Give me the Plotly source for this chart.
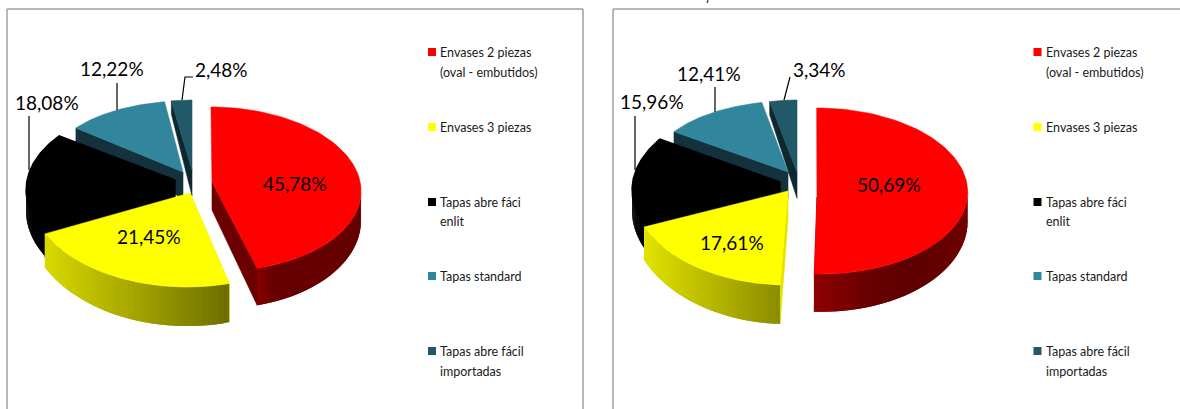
import numpy as np
import plotly.graph_objects as go

# ---------- data ----------
categories = [
    "Envases 2 piezas<br>(oval - embutidos)",
    "Envases 3 piezas",
    "Tapas abre fáci<br>enlit",
    "Tapas standard",
    "Tapas abre fácil<br>importadas",
]
values_left = [45.78, 21.45, 18.08, 12.22, 2.48]
values_right = [50.69, 17.61, 15.96, 12.41, 3.34]
labels_left = ["45,78%", "21,45%", "18,08%", "12,22%", "2,48%"]
labels_right = ["50,69%", "17,61%", "15,96%", "12,41%", "3,34%"]
colors = ["#FF0000", "#FFFF00", "#000000", "#31859C", "#215968"]

# ---------- styling / layout constants ----------
FONT = "Lato"
WALL = ["#6a0000", "#e4e400", "#000000", "#13323d", "#0e2830"]
WALL_EDGE = [1, 0, 0, 0, 0]          # which radial edge has a visible wall
DEPTH_SCALE = [1, 1, 0.72, 1, 1]
DRAW_ORDER = [4, 3, 2, 1, 0]

LEFT = dict(
    geom={  # cx, cy, rx, ry, shear, apex x, apex y
        0: (215, 189, 146, 82, 4, 212, 182),
        1: (187, 187, 161, 100, 0, 190, 193),
        2: (190, 190, 164, 90, 0, 175, 180),
        3: (186, 169, 138, 68, 0, 183, 172),
        4: (192, 171, 133, 71, 0, 192, 170),
    },
    side={
        0: [(258, "#880000"), (272, "#680000"), (361, "#640000")],
        1: [(47, "#d8d800"), (229, "#6e6e00")],
    },
    inside={0: (295, 183), 1: (149, 236)},
    outside={
        2: ((47, 102), [(29, 116), (29, 170)]),
        3: ((112, 68), [(117, 83), (117, 110)]),
        4: ((221, 69), [(193, 77), (185, 77), (182, 100)]),
    },
    swatch_x=432, text_x=438,
)
RIGHT = dict(
    geom={
        0: (818.7, 191, 149, 83, 2, 817, 197),
        1: (786.8, 187, 156.5, 98, 0, 788, 191),
        2: (802, 190, 170, 93, 0, 780, 182),
        3: (791, 169, 140, 68, 0, 788, 172),
        4: (797, 172, 131, 72, 0, 797, 172),
    },
    side={
        0: [(814, "#900000"), (870, "#680000"), (920, "#5e0000"), (967, "#700000")],
        1: [(646, "#e2e200"), (780, "#8c8c00")],
    },
    inside={0: (889, 184), 1: (732, 242)},
    outside={
        2: ((652, 101), [(635, 116), (635, 170)]),
        3: ((709, 73), [(715, 87), (715, 112)]),
        4: ((819, 69), [(790, 77), (784, 100)]),
    },
    swatch_x=1037.5, text_x=1044,
)
LEGEND_Y = [[52, 72], [127], [202, 221], [276], [351, 371]]
LABEL_SIZE = 19
LEGEND_SIZE = 12.5


def depth(y):
    return np.interp(y, [100, 182, 285], [13, 28, 39])


def rim(g, th):
    cx, cy, rx, ry, sh, _, _ = g
    return cx + rx * np.sin(th) - sh * np.cos(th), cy - ry * np.cos(th)


def hex_rgb(c):
    return np.array([int(c[i:i + 2], 16) for i in (1, 3, 5)], float)


def ramp(stops, x):
    xs = [s[0] for s in stops]
    rgb = [np.interp(x, xs, [hex_rgb(s[1])[k] for s in stops]) for k in range(3)]
    return "rgb(%d,%d,%d)" % tuple(rgb)


def poly(fig, xs, ys, color, lw=0.6):
    fig.add_trace(go.Scatter(
        x=list(xs), y=list(ys), mode="lines", fill="toself", fillcolor=color,
        line=dict(color=color, width=lw), hoverinfo="skip", showlegend=False,
    ))


def draw_pie(fig, values, labels, cfg):
    fr = np.array(values, float) / sum(values)
    edges = np.concatenate([[0], np.cumsum(fr)]) * 2 * np.pi
    for i in DRAW_ORDER:
        g = cfg["geom"][i]
        t0, t1 = edges[i], edges[i + 1]
        ax, ay = g[5], g[6]
        lw = 1.4 if colors[i] == "#000000" else 0.6
        ds = DEPTH_SCALE[i]
        # radial wall
        te = t1 if WALL_EDGE[i] else t0
        ex, ey = rim(g, te)
        poly(fig, [ax, ex, ex, ax, ax],
             [ay, ey, ey + ds * depth(ey), ay + ds * depth(ay), ay], WALL[i], lw)
        # outer curved side (front half only); slices overlap to hide seams
        lo, hi = max(t0, np.pi / 2), min(t1, 3 * np.pi / 2)
        if hi > lo:
            ts = np.linspace(lo, hi, 41)
            for k, (a, b) in enumerate(zip(ts[:-1], ts[1:])):
                b2 = ts[min(k + 2, len(ts) - 1)]
                xm = rim(g, (a + b) / 2)[0]
                col = ramp(cfg["side"][i], xm) if i in cfg["side"] else colors[i]
                sx, sy = rim(g, np.linspace(a, b2, 6))
                poly(fig, np.r_[sx, sx[::-1], sx[0]],
                     np.r_[sy, (sy + ds * depth(sy))[::-1], sy[0]], col, 0)
        # top face
        ts = np.linspace(t0, t1, 90)
        rx, ry = rim(g, ts)
        poly(fig, np.r_[ax, rx, ax], np.r_[ay, ry, ay], colors[i], lw)
    # leader lines
    for i, (_, pts) in cfg["outside"].items():
        fig.add_trace(go.Scatter(
            x=[p[0] for p in pts], y=[p[1] for p in pts], mode="lines",
            line=dict(color="#000000", width=1.2), hoverinfo="skip", showlegend=False,
        ))
    # value labels
    for i, lab in enumerate(labels):
        pos = cfg["inside"][i] if i in cfg["inside"] else cfg["outside"][i][0]
        fig.add_annotation(x=pos[0], y=pos[1], text=lab, showarrow=False,
                           xanchor="center", yanchor="middle",
                           font=dict(family=FONT, size=LABEL_SIZE, color="#000000"))
    # legend
    fig.add_trace(go.Scatter(
        x=[cfg["swatch_x"]] * len(categories), y=[ly[0] for ly in LEGEND_Y],
        mode="markers",
        marker=dict(symbol="square", size=8, color=colors, line=dict(width=0)),
        hoverinfo="skip", showlegend=False,
    ))
    for cat, ly in zip(categories, LEGEND_Y):
        for part, y in zip(cat.split("<br>"), ly):
            fig.add_annotation(x=cfg["text_x"], y=y, text=part, showarrow=False,
                               xanchor="left", yanchor="middle",
                               font=dict(family=FONT, size=LEGEND_SIZE, color="#1a1a1a"))


fig = go.Figure()
draw_pie(fig, values_left, labels_left, LEFT)
draw_pie(fig, values_right, labels_right, RIGHT)

# short stroke cut off at the top edge of the reference image
fig.add_trace(go.Scatter(x=[708, 707], y=[0, 3], mode="lines",
                         line=dict(color="#333333", width=1.2),
                         hoverinfo="skip", showlegend=False))

FRAME = dict(color="#a0a0a0", width=1.5)
for x0, y0, x1, y1 in [(7, 9, 583, 9), (7, 9, 7, 409), (583, 9, 583, 409),
                       (613, 9, 1180, 9), (613, 9, 613, 409)]:
    fig.add_shape(type="line", x0=x0, y0=y0, x1=x1, y1=y1, line=FRAME, layer="above")

fig.update_layout(
    width=1180, height=409, margin=dict(l=0, r=0, t=0, b=0),
    paper_bgcolor="#ffffff", plot_bgcolor="#ffffff", showlegend=False,
    xaxis=dict(range=[0, 1180], visible=False, fixedrange=True),
    yaxis=dict(range=[409, 0], visible=False, fixedrange=True),
)
fig.write_html("out.html", config=dict(displayModeBar=False),
               post_script="document.body.style.margin='0';document.body.style.overflow='hidden';")
